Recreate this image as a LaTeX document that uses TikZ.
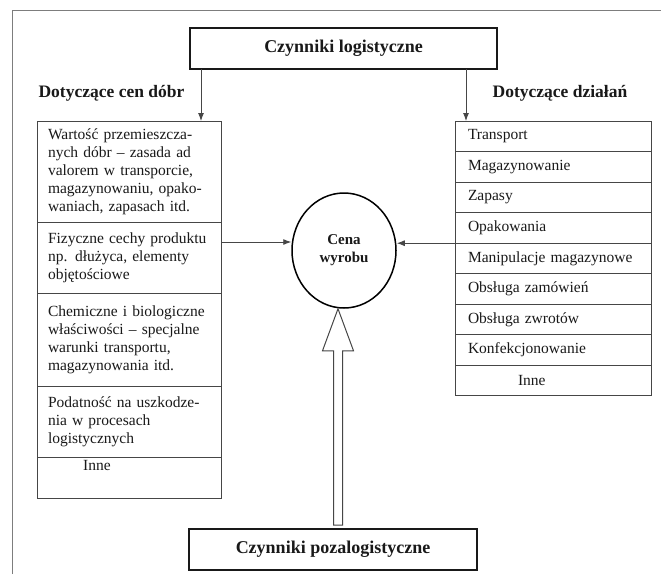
\documentclass[tikz,border=0pt]{standalone}
\usepackage{fontspec}
\setmainfont{Liberation Serif}
\usetikzlibrary{
    shapes.geometric,
    arrows.meta,
    positioning,
    calc
}
\definecolor{lineGray}{RGB}{70, 70, 70}
\definecolor{frameGray}{RGB}{125, 125, 125}
\definecolor{textBlack}{RGB}{25, 25, 25}
\tikzset{
    factorBox/.style={
        rectangle,
        draw=textBlack,
        line width=2pt,
        minimum height=41pt,
        inner sep=0pt,
        outer sep=0pt,
        text=textBlack,
        font=\bfseries\fontsize{18}{21}\selectfont
    },
    heading/.style={
        inner sep=0pt,
        text=textBlack,
        font=\bfseries\fontsize{17.5}{20}\selectfont
    },
    cellText/.style={
        inner sep=0pt,
        text=textBlack,
        font=\fontsize{15.5}{18}\selectfont
    },
    goodsCell/.style={
        rectangle,
        draw=lineGray,
        line width=1pt,
        text width=162pt,
        inner xsep=11pt,
        inner ysep=0pt,
        outer sep=0pt,
        align=left,
        text=textBlack,
        font=\fontsize{15.5}{18}\selectfont
    },
    actionCell/.style={
        rectangle,
        draw=lineGray,
        line width=1pt,
        text width=170pt,
        minimum height=30.55pt,
        inner xsep=13pt,
        inner ysep=0pt,
        outer sep=0pt,
        align=left,
        text=textBlack,
        font=\fontsize{15.5}{18}\selectfont
    },
    priceNode/.style={
        ellipse,
        draw=black,
        line width=1.5pt,
        minimum width=104pt,
        minimum height=115pt,
        inner sep=0pt,
        align=center,
        text=textBlack,
        font=\bfseries\fontsize{15}{18}\selectfont
    },
    flowArrow/.style={
        draw=lineGray,
        line width=0.9pt,
        -{Latex[length=8pt, width=6pt]}
    },
    hollowArrow/.style={
        draw=lineGray,
        line width=1pt,
        fill=white,
        line join=miter
    },
    frameLine/.style={
        draw=frameGray,
        line width=1pt
    }
}

\begin{document}
\begin{tikzpicture}[x=1pt, y=-1pt]
    \useasboundingbox (0,0) rectangle (661,574);
    \fill[white] (0,0) rectangle (661,574);
    \draw[frameLine] (12,574) -- (12,10) -- (661,10);

    % Top and bottom factors
    \node[factorBox, minimum width=307pt] (logist) at (343.5,48.5) {Czynniki logistyczne};
    \node[factorBox, minimum width=288pt] (pozalog) at (333,549.5) {Czynniki pozalogistyczne};

    \node[heading] (goodsHead) at (111.5,93) {Dotyczące cen dóbr};
    \node[heading] (actionHead) at (560,93) {Dotyczące działań};

    % Left column
    \node[goodsCell, minimum height=101pt, anchor=north] (lrow1) at (129,121) {
        Wartość przemieszcza-\\nych dóbr -- zasada ad\\valorem w transporcie,\\magazynowaniu, opako-\\waniach, zapasach itd.};
    \node[goodsCell, minimum height=71pt, below=0pt of lrow1] (lrow2) {
        Fizyczne cechy produktu\\np. dłużyca, elementy\\objętościowe};
    \node[goodsCell, minimum height=93pt, below=0pt of lrow2] (lrow3) {
        Chemiczne i biologiczne\\właściwości -- specjalne\\warunki transportu,\\magazynowania itd.};
    \node[goodsCell, minimum height=71pt, below=0pt of lrow3] (lrow4) {
        Podatność na uszkodze-\\nia w procesach\\logistycznych};
    \node[goodsCell, minimum height=41pt, below=0pt of lrow4] (lrow5) {};
    \node[cellText, anchor=north west] (lInne) at ([xshift=46pt, yshift=-3pt]lrow5.north west) {Inne};

    % Right column
    \node[actionCell, anchor=north] (rrow1) at (553,121) {Transport};
    \node[actionCell, below=0pt of rrow1] (rrow2) {Magazynowanie};
    \node[actionCell, below=0pt of rrow2] (rrow3) {Zapasy};
    \node[actionCell, below=0pt of rrow3] (rrow4) {Opakowania};
    \node[actionCell, below=0pt of rrow4] (rrow5) {Manipulacje magazynowe};
    \node[actionCell, below=0pt of rrow5] (rrow6) {Obsługa zamówień};
    \node[actionCell, below=0pt of rrow6] (rrow7) {Obsługa zwrotów};
    \node[actionCell, below=0pt of rrow7] (rrow8) {Konfekcjonowanie};
    \node[actionCell, below=0pt of rrow8] (rrow9) {\hspace*{50pt}Inne};

    % Price
    \node[priceNode] (cena) at (344,250.5) {Cena\\wyrobu};

    % Connectors
    \draw[flowArrow] ([xshift=11pt]logist.south west) -- ([xshift=11pt]logist.south west |- lrow1.north);
    \draw[flowArrow] ([xshift=-31pt]logist.south east) -- ([xshift=-31pt]logist.south east |- rrow1.north);
    \draw[flowArrow] ([yshift=-20pt]lrow2.north east) -- ([yshift=-20pt]lrow2.north east -| cena.west);
    \draw[flowArrow] (rrow4.south west) -- (rrow4.south west -| cena.east);

    % Hollow arrow from below
    \coordinate (tip) at ([xshift=-6pt]cena.south);
    \coordinate (neck) at ([yshift=-42pt]tip);
    \coordinate (base) at ([yshift=4pt]tip |- pozalog.north);
    \draw[hollowArrow] (tip) -- ([xshift=15.5pt]neck) -- ([xshift=4.5pt]neck) -- ([xshift=4.5pt]base)
        -- ([xshift=-4.5pt]base) -- ([xshift=-4.5pt]neck) -- ([xshift=-15.5pt]neck) -- cycle;
\end{tikzpicture}
\end{document}
